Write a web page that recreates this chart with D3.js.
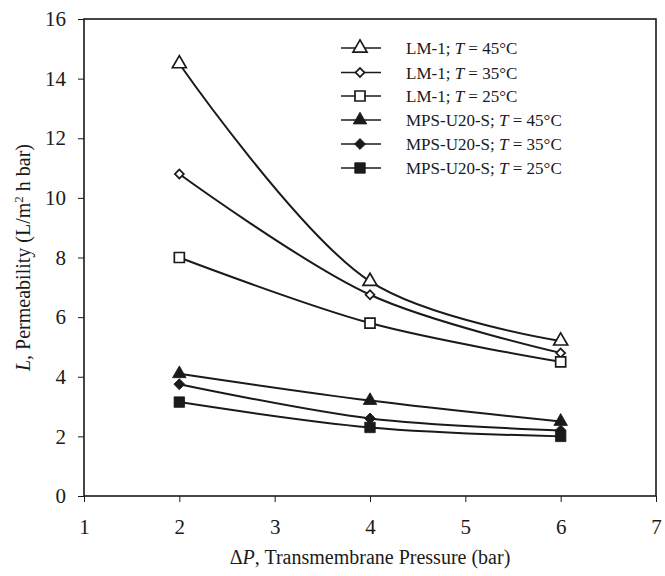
<!DOCTYPE html>
<html>
<head>
<meta charset="utf-8">
<script src="https://cdn.jsdelivr.net/npm/d3@7"></script>
<style>
  html, body { margin: 0; padding: 0; background: #fff; }
  svg { display: block; }
  svg text { font-family: "Liberation Serif", "DejaVu Serif", serif !important; fill: #1a1a1a; }
</style>
</head>
<body>
<svg id="chart" width="665" height="576"></svg>
<script>
// ---- data ----
const pressures = [2, 4, 6];
const seriesNames = ["LM-1; T = 45°C", "LM-1; T = 35°C", "LM-1; T = 25°C",
                     "MPS-U20-S; T = 45°C", "MPS-U20-S; T = 35°C", "MPS-U20-S; T = 25°C"];
const lm45 = [14.5, 7.2, 5.2];
const lm35 = [10.8, 6.75, 4.8];
const lm25 = [8.0, 5.8, 4.5];
const mps45 = [4.1, 3.2, 2.5];
const mps35 = [3.75, 2.6, 2.2];
const mps25 = [3.15, 2.3, 2.0];
const xTicks = [1, 2, 3, 4, 5, 6, 7];
const yTicks = [0, 2, 4, 6, 8, 10, 12, 14, 16];

const series = [
  { name: seriesNames[0], values: lm45, shape: "triangle", filled: false },
  { name: seriesNames[1], values: lm35, shape: "diamond", filled: false },
  { name: seriesNames[2], values: lm25, shape: "square", filled: false },
  { name: seriesNames[3], values: mps45, shape: "triangle", filled: true },
  { name: seriesNames[4], values: mps35, shape: "diamond", filled: true },
  { name: seriesNames[5], values: mps25, shape: "square", filled: true }
];

// ---- layout ----
const svg = d3.select("#chart");
const mLeft = 84, mRight = 656, mTop = 19, mBottom = 496;
const ink = "#1a1a1a";
const serif = '"Liberation Serif", "DejaVu Serif", serif';

const x = d3.scaleLinear().domain([1, 7]).range([mLeft, mRight]);
const y = d3.scaleLinear().domain([0, 16]).range([mBottom, mTop]);

// frame
svg.append("rect")
  .attr("x", mLeft).attr("y", mTop)
  .attr("width", mRight - mLeft).attr("height", mBottom - mTop)
  .attr("fill", "none").attr("stroke", ink).attr("stroke-width", 1.6);

// axes
const xAxis = svg.append("g").attr("transform", `translate(0,${mBottom})`)
  .call(d3.axisBottom(x).tickValues(xTicks).tickFormat(d3.format("d")).tickSize(6).tickPadding(17));
const yAxis = svg.append("g").attr("transform", `translate(${mLeft},0)`)
  .call(d3.axisLeft(y).tickValues(yTicks).tickFormat(d3.format("d")).tickSize(6).tickPadding(12));
[xAxis, yAxis].forEach(g => {
  g.attr("font-family", null).style("font-family", serif);
  g.select(".domain").remove();
  g.selectAll(".tick line").attr("stroke", ink).attr("stroke-width", 1);
  g.selectAll(".tick text").style("font-family", serif).attr("font-size", 21).attr("fill", ink);
});

// axis titles
const xt = svg.append("text")
  .attr("x", 370).attr("y", 564)
  .attr("text-anchor", "middle").attr("font-size", 20).style("font-family", serif);
xt.append("tspan").text("Δ");
xt.append("tspan").attr("font-style", "italic").text("P");
xt.append("tspan").text(", Transmembrane Pressure (bar)");

const yt = svg.append("text")
  .attr("transform", `translate(30,${(mTop + mBottom) / 2}) rotate(-90)`)
  .attr("text-anchor", "middle").attr("font-size", 20).style("font-family", serif);
yt.append("tspan").attr("font-style", "italic").text("L");
yt.append("tspan").text(", Permeability (L/m");
yt.append("tspan").attr("font-size", 13).attr("dy", -7).text("2");
yt.append("tspan").attr("dy", 7).text(" h bar)");

// symbols
function symbolFor(s) {
  const type = (s.shape === "triangle") ? d3.symbolTriangle : d3.symbolSquare;
  const size = s.shape === "triangle" ? (s.filled ? 80 : 85)
             : s.shape === "diamond" ? (s.filled ? 60 : 40) : (s.filled ? 110 : 100);
  return d3.symbol().type(type).size(size)();
}
function symbolRot(s) { return s.shape === "diamond" ? " rotate(45)" : ""; }

const line = d3.line()
  .x((d, i) => x(pressures[i]))
  .y(d => y(d))
  .curve(d3.curveCatmullRom.alpha(0.5));

series.forEach(s => {
  svg.append("path")
    .attr("d", line(s.values))
    .attr("fill", "none").attr("stroke", ink).attr("stroke-width", 2);
  s.values.forEach((v, i) => {
    svg.append("path")
      .attr("d", symbolFor(s))
      .attr("transform", `translate(${x(pressures[i])},${y(v)})` + symbolRot(s))
      .attr("fill", s.filled ? ink : "#fff")
      .attr("stroke", ink).attr("stroke-width", s.filled ? 0.8 : 1.7);
  });
});

// legend
const legendY = [48, 72.5, 96, 120, 144, 168];
series.forEach((s, i) => {
  const g = svg.append("g").attr("transform", `translate(0,${legendY[i]})`);
  g.append("line").attr("x1", 341).attr("x2", 381).attr("y1", 0).attr("y2", 0)
    .attr("stroke", ink).attr("stroke-width", 1.6);
  g.append("path").attr("d", symbolFor(s))
    .attr("transform", "translate(360,0)" + symbolRot(s))
    .attr("fill", s.filled ? ink : "#fff")
    .attr("stroke", ink).attr("stroke-width", s.filled ? 0.8 : 1.7);
  const parts = s.name.split("T");
  const t = g.append("text").attr("x", 406).attr("y", 6).attr("font-size", 17).style("font-family", serif);
  t.append("tspan").text(parts[0]);
  t.append("tspan").attr("font-style", "italic").text("T");
  t.append("tspan").text(parts[1]);
});
</script>
</body>
</html>
